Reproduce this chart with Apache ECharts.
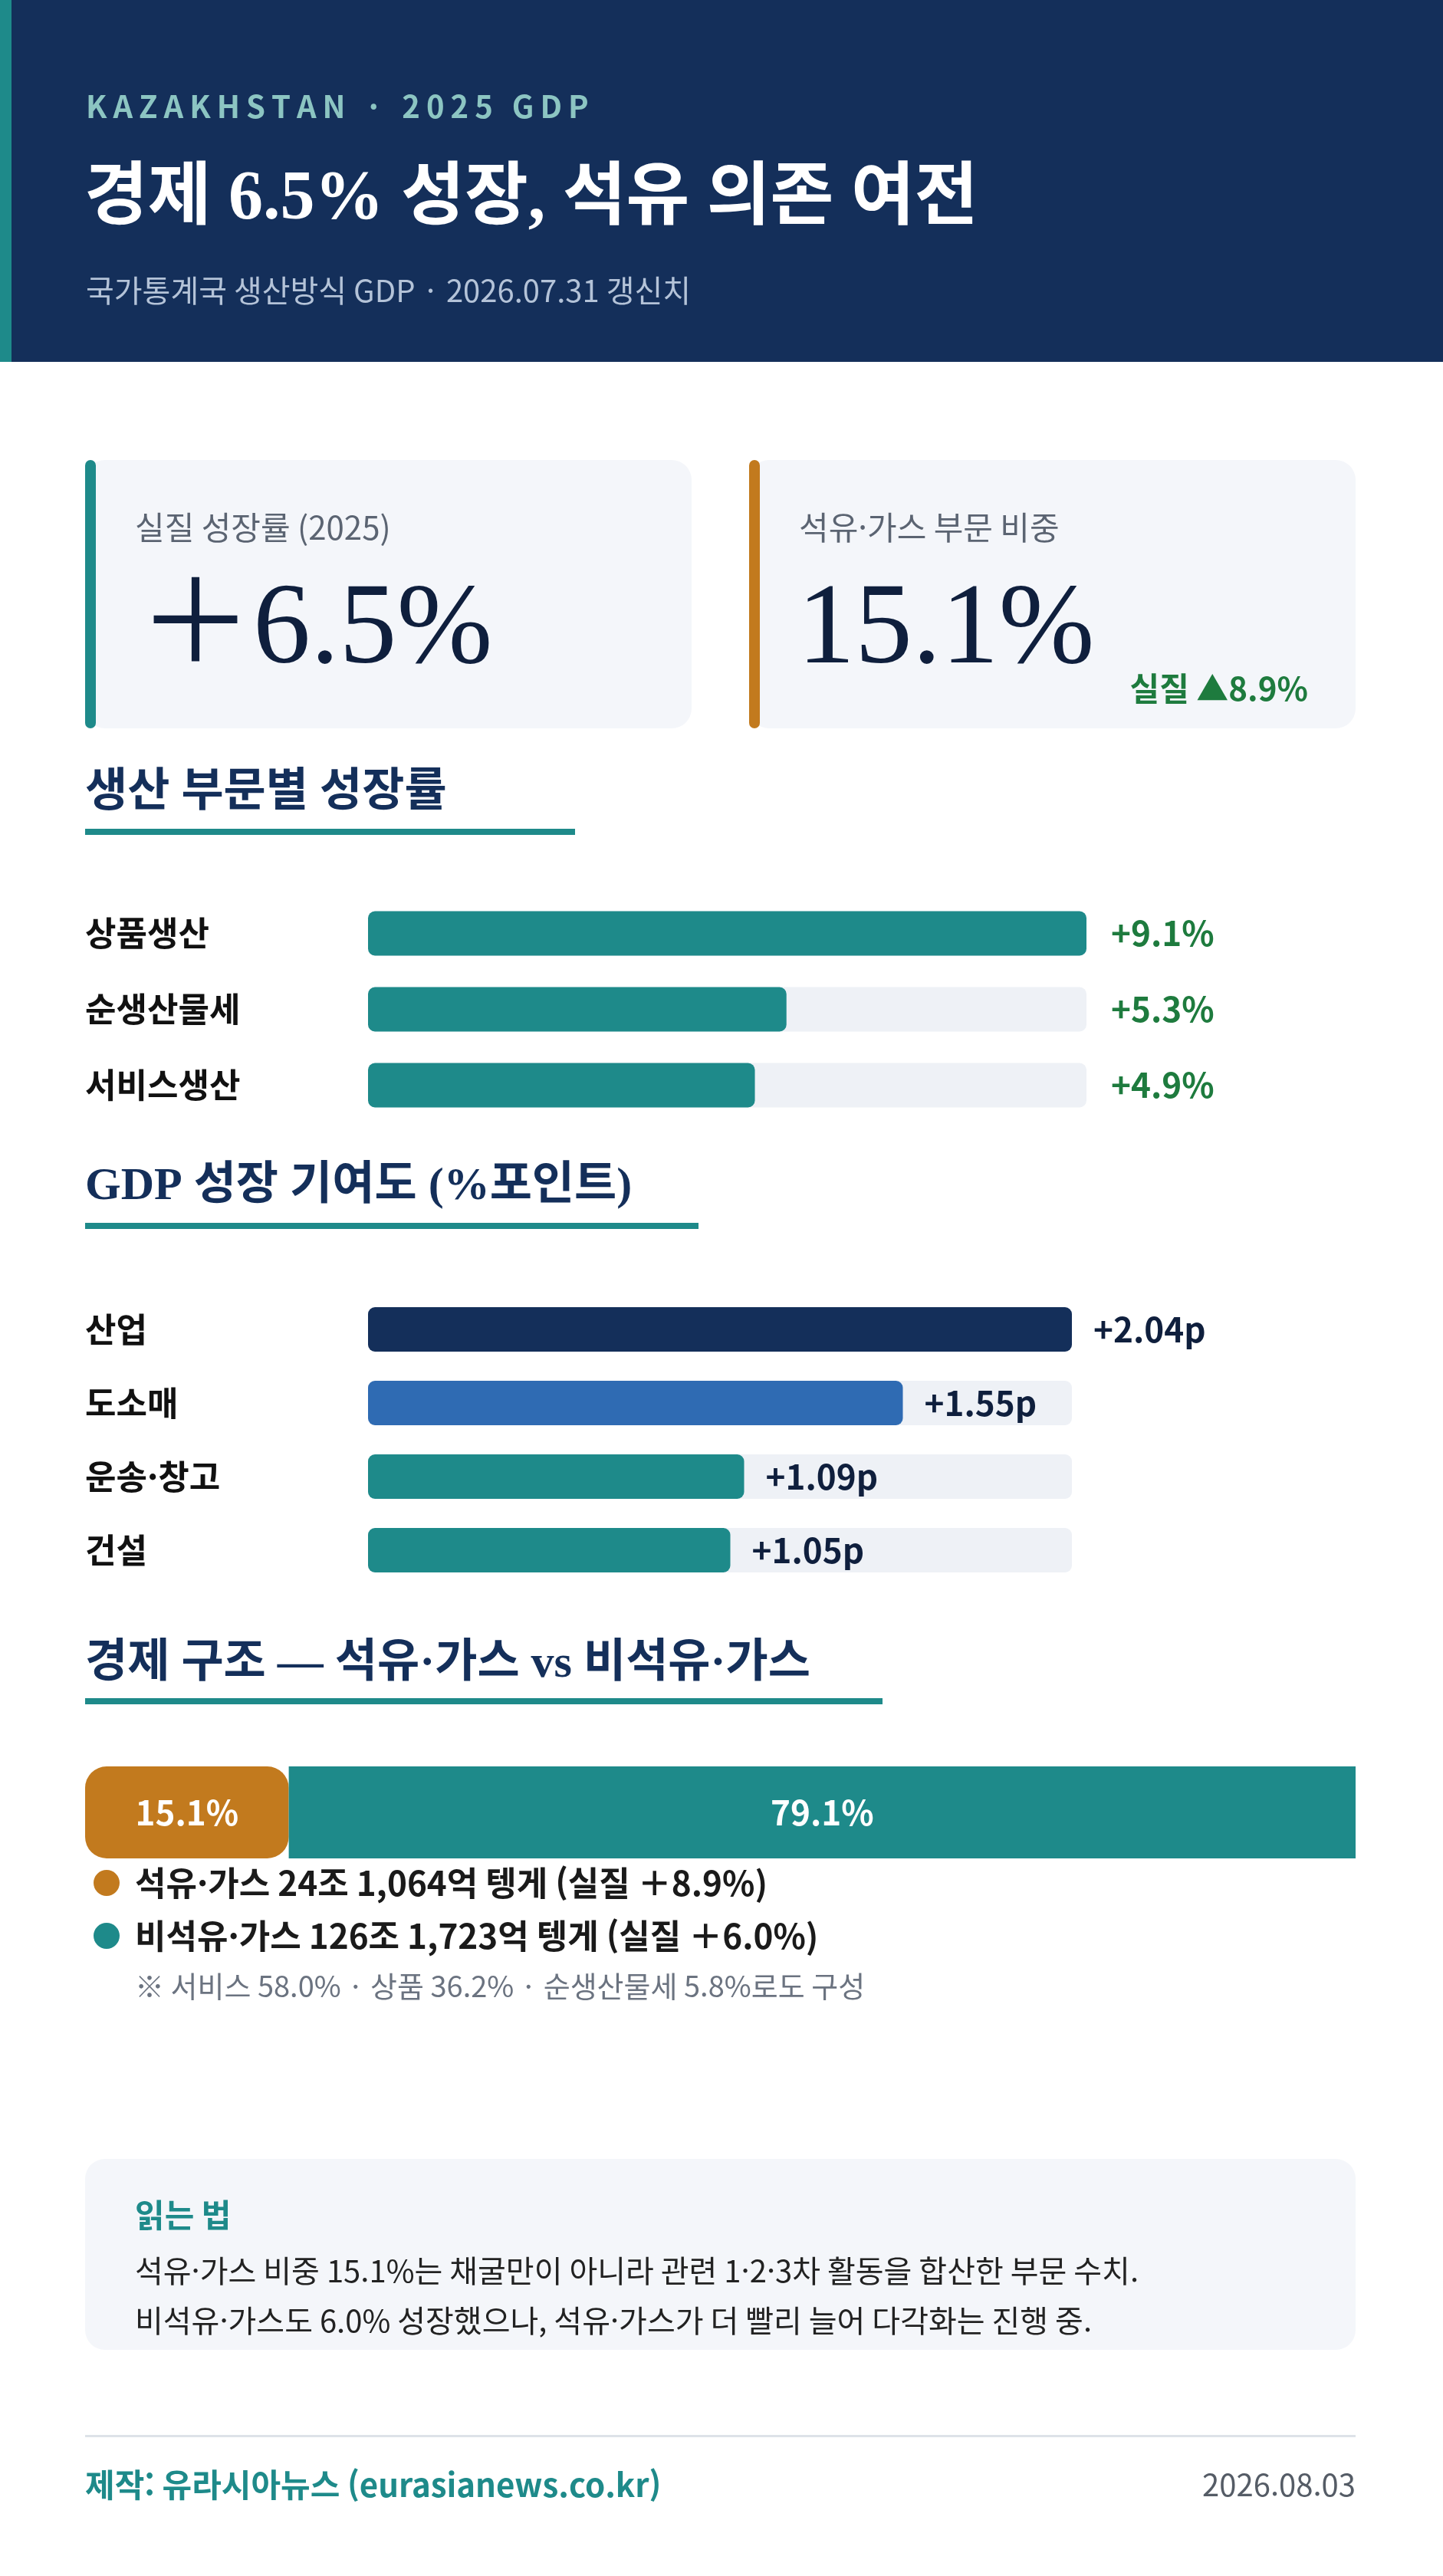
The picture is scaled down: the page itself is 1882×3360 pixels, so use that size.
<!DOCTYPE html>
<html lang="ko">
<head>
  <meta charset="UTF-8">
  <title>Kazakhstan 2025 GDP</title>
  <style>
    html, body { margin: 0; padding: 0; background: #fff; }
    #chart { width: 1882px; height: 3360px; }
  </style>
</head>
<body>
  <div id="chart"></div>
  <script src="https://cdn.jsdelivr.net/npm/echarts@6/dist/echarts.min.js"></script>
  <script>
    // 생산 부문별 성장률
    var sectorNames = ['상품생산', '순생산물세', '서비스생산'];
    var sectorGrowth = [9.1, 5.3, 4.9];

    // GDP 성장 기여도 (%포인트)
    var contribNames = ['산업', '도소매', '운송·창고', '건설'];
    var contribValues = [2.04, 1.55, 1.09, 1.05];
    var contribColors = ['#142f5a', '#2f6bb3', '#1e8a8a', '#1e8a8a'];

    // 경제 구조
    var shareNames = ['석유·가스', '비석유·가스'];
    var shareValues = [15.1, 79.1];
    var shareAmounts = ['24조 1,064억 텡게', '126조 1,723억 텡게'];
    var shareReal = [8.9, 6.0];
    var shareColors = ['#c27a1e', '#1e8a8a'];

    var NAVY = '#142f5a', TEAL = '#1e8a8a', GREEN = '#1e7b3e';
    var SANS = '"Noto Sans CJK KR", "Noto Sans", sans-serif';
    var SERIF = '"Liberation Serif", "Noto Sans CJK KR", serif';

    function spaced(s) { return s.split('').join('\u2009'); }

    function txt(x, y, text, size, color, opt) {
      opt = opt || {};
      return {
        type: 'text', x: x, y: y,
        style: {
          text: text, fontSize: size, fill: color,
          fontFamily: opt.family || SANS, fontWeight: opt.weight || 'normal',
          textAlign: opt.align || 'left', textVerticalAlign: 'middle'
        }
      };
    }

    var graphics = [
      { type: 'rect', shape: { x: 0, y: 0, width: 1882, height: 472 }, style: { fill: NAVY } },
      { type: 'rect', shape: { x: 0, y: 0, width: 15, height: 472 }, style: { fill: TEAL } },
      txt(112, 139, spaced('KAZAKHSTAN · 2025 GDP'), 40, '#8cc5c2', { weight: 'bold' }),
      txt(110, 262, '경제 6.5% 성장, 석유 의존 여전', 90, '#ffffff', { weight: 'bold', family: SERIF }),
      txt(112, 379, '국가통계국 생산방식 GDP · 2026.07.31 갱신치', 40, '#b4c3d8'),

      // cards
      { type: 'rect', shape: { x: 111, y: 600, width: 791, height: 350, r: 26 }, style: { fill: '#f4f6fa' } },
      { type: 'rect', shape: { x: 111, y: 600, width: 14, height: 350, r: 7 }, style: { fill: TEAL } },
      txt(176, 688, '실질 성장률 (2025)', 42, '#5b6472'),
      txt(180, 825, '＋6.5%', 150, '#0f1f3d', { family: SERIF }),
      { type: 'rect', shape: { x: 977, y: 600, width: 791, height: 350, r: 26 }, style: { fill: '#f4f6fa' } },
      { type: 'rect', shape: { x: 977, y: 600, width: 14, height: 350, r: 7 }, style: { fill: '#c27a1e' } },
      txt(1042, 688, '석유·가스 부문 비중', 42, '#5b6472'),
      txt(1040, 825, '15.1%', 150, '#0f1f3d', { family: SERIF }),
      txt(1706, 898, '실질 ▲' + shareReal[0].toFixed(1) + '%', 42, GREEN, { weight: 'bold', align: 'right' }),

      // section titles
      txt(111, 1035, '생산 부문별 성장률', 60, NAVY, { weight: 'bold', family: SERIF }),
      { type: 'rect', shape: { x: 111, y: 1081, width: 639, height: 8 }, style: { fill: TEAL } },
      txt(111, 1548, 'GDP 성장 기여도 (%포인트)', 60, NAVY, { weight: 'bold', family: SERIF }),
      { type: 'rect', shape: { x: 111, y: 1595, width: 800, height: 8 }, style: { fill: TEAL } },
      txt(111, 2171, '경제 구조 — 석유·가스 vs 비석유·가스', 60, NAVY, { weight: 'bold', family: SERIF }),
      { type: 'rect', shape: { x: 111, y: 2215, width: 1040, height: 8 }, style: { fill: TEAL } },

      // note
      txt(176, 2591, '※ 서비스 58.0% · 상품 36.2% · 순생산물세 5.8%로도 구성', 38, '#6b7380'),
      { type: 'rect', shape: { x: 111, y: 2816, width: 1657, height: 249, r: 26 }, style: { fill: '#f4f6fa' } },
      txt(176, 2889, '읽는 법', 42, TEAL, { weight: 'bold' }),
      txt(176, 2962, '석유·가스 비중 15.1%는 채굴만이 아니라 관련 1·2·3차 활동을 합산한 부문 수치.', 40, '#222'),
      txt(176, 3027, '비석유·가스도 6.0% 성장했으나, 석유·가스가 더 빨리 늘어 다각화는 진행 중.', 40, '#222'),

      // footer
      { type: 'rect', shape: { x: 111, y: 3176, width: 1657, height: 3 }, style: { fill: '#dde2e8' } },
      txt(111, 3241, '제작: 유라시아뉴스 (eurasianews.co.kr)', 42, TEAL, { weight: 'bold' }),
      txt(1768, 3241, '2026.08.03', 40, '#555c66', { align: 'right' })
    ];

    // legend lines for structure chart
    var legendY = [2456, 2525];
    for (var i = 0; i < shareNames.length; i++) {
      graphics.push({ type: 'circle', shape: { cx: 139, cy: legendY[i], r: 17 }, style: { fill: shareColors[i] } });
      graphics.push(txt(176, legendY[i], shareNames[i] + ' ' + shareAmounts[i] + ' (실질 ＋' + shareReal[i].toFixed(1) + '%)', 44, '#1a1a1a', { weight: 'bold' }));
    }

    var catLabel = { color: '#111', fontSize: 44, fontWeight: 'bold', fontFamily: SANS, align: 'left', margin: 369 };

    var option = {
      animation: false,
      backgroundColor: '#fff',
      graphic: graphics,
      grid: [
        { left: 480, top: 1168, width: 937, height: 297 },
        { left: 480, top: 1686, width: 918, height: 384 },
        { left: 111, top: 2304, width: 1657, height: 120 }
      ],
      xAxis: [
        { gridIndex: 0, type: 'value', min: 0, max: 9.1, show: false },
        { gridIndex: 1, type: 'value', min: 0, max: 2.04, show: false },
        { gridIndex: 2, type: 'value', min: 0, max: 94.2, show: false }
      ],
      yAxis: [
        { gridIndex: 0, type: 'category', inverse: true, data: sectorNames,
          axisLine: { show: false }, axisTick: { show: false }, axisLabel: catLabel },
        { gridIndex: 0, type: 'category', inverse: true, position: 'right',
          data: sectorGrowth.map(function (v) { return '+' + v.toFixed(1) + '%'; }),
          axisLine: { show: false }, axisTick: { show: false },
          axisLabel: { color: GREEN, fontSize: 44, fontWeight: 'bold', fontFamily: SANS, margin: 32 } },
        { gridIndex: 1, type: 'category', inverse: true, data: contribNames,
          axisLine: { show: false }, axisTick: { show: false }, axisLabel: catLabel },
        { gridIndex: 2, type: 'category', data: ['구조'], show: false }
      ],
      series: [
        {
          type: 'bar', xAxisIndex: 0, yAxisIndex: 0, data: sectorGrowth, barWidth: 58,
          itemStyle: { color: TEAL, borderRadius: 9 },
          showBackground: true, backgroundStyle: { color: '#eef1f6', borderRadius: 9 }
        },
        {
          type: 'bar', xAxisIndex: 1, yAxisIndex: 2, barWidth: 58,
          data: contribValues.map(function (v, i) { return { value: v, itemStyle: { color: contribColors[i] } }; }),
          itemStyle: { borderRadius: 9 },
          showBackground: true, backgroundStyle: { color: '#eef1f6', borderRadius: 9 },
          label: {
            show: true, position: 'right', distance: 28, color: '#0f1f3d', fontSize: 44,
            fontWeight: 'bold', fontFamily: SANS,
            formatter: function (p) { return '+' + p.value.toFixed(2) + 'p'; }
          }
        },
        {
          type: 'bar', xAxisIndex: 2, yAxisIndex: 3, stack: 's', barWidth: 120, data: [shareValues[0]],
          itemStyle: { color: shareColors[0], borderRadius: 28 },
          label: { show: true, position: 'inside', color: '#fff', fontSize: 44, fontWeight: 'bold', fontFamily: SANS,
            formatter: function (p) { return p.value.toFixed(1) + '%'; } }
        },
        {
          type: 'bar', xAxisIndex: 2, yAxisIndex: 3, stack: 's', barWidth: 120, data: [shareValues[1]],
          itemStyle: { color: shareColors[1] },
          label: { show: true, position: 'inside', color: '#fff', fontSize: 44, fontWeight: 'bold', fontFamily: SANS,
            formatter: function (p) { return p.value.toFixed(1) + '%'; } }
        }
      ]
    };

    var myChart = echarts.init(document.getElementById('chart'));
    myChart.setOption(option);
  </script>
</body>
</html>
